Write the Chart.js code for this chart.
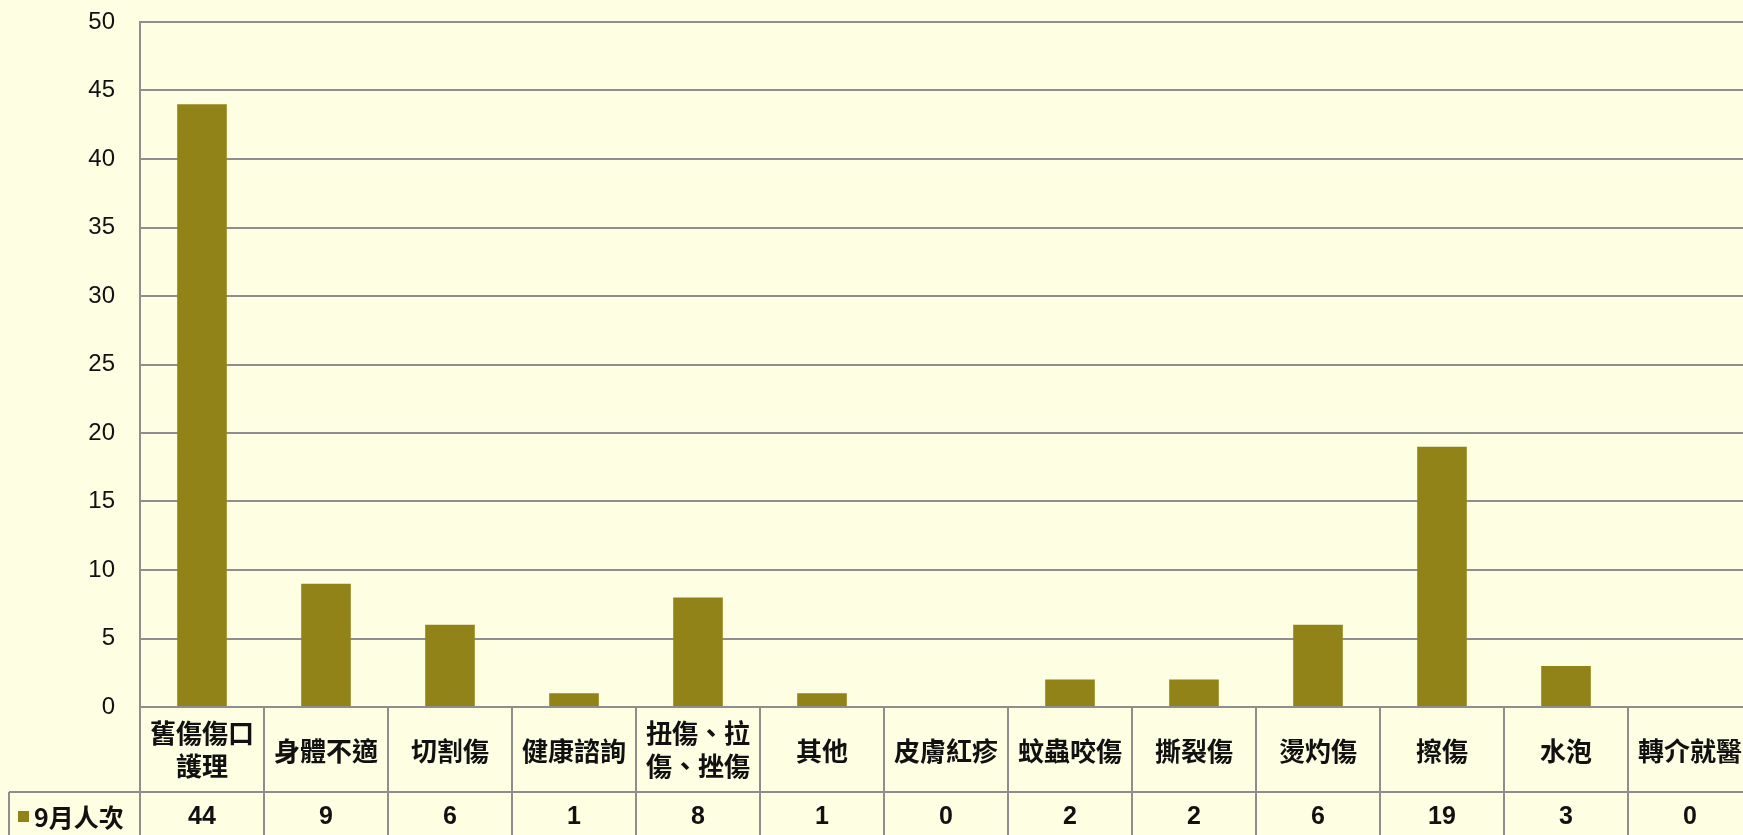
<!DOCTYPE html>
<html>
<head>
<meta charset="utf-8">
<script src="https://cdn.jsdelivr.net/npm/chart.js@4/dist/chart.umd.min.js"></script>
<style>
  html, body { margin: 0; padding: 0; overflow: hidden; background: #fefee3; }
  #wrap { width: 1754px; height: 860px; }
</style>
</head>
<body>
<div id="wrap"><canvas id="chart" width="1754" height="860"></canvas></div>
<script>
// 類別（表格第一列，可換行）
let categories = [
    ["舊傷傷口", "護理"], ["身體不適"], ["切割傷"], ["健康諮詢"], ["扭傷、拉", "傷、挫傷"],
    ["其他"], ["皮膚紅疹"], ["蚊蟲咬傷"], ["撕裂傷"], ["燙灼傷"], ["擦傷"], ["水泡"], ["轉介就醫"]
];
let seriesName = "9月人次";
let septemberCounts = [44, 9, 6, 1, 8, 1, 0, 2, 2, 6, 19, 3, 0];
let yTicks = [0, 5, 10, 15, 20, 25, 30, 35, 40, 45, 50];

let gridColor = "#8e8e8e";
let barColor = "#928318";
let cjkFont = "'Noto Sans CJK TC', 'Noto Sans CJK SC', sans-serif";
let numFont = "'Liberation Sans', Arial, sans-serif";

// 背景
let background = {
    id: "background",
    beforeDraw(chart) {
        let ctx = chart.ctx;
        ctx.save();
        ctx.fillStyle = "#fefee3";
        ctx.fillRect(0, 0, chart.width, chart.height);
        ctx.restore();
    }
};

// 下方資料表
let dataTable = {
    id: "dataTable",
    afterDraw(chart) {
        let ctx = chart.ctx;
        let area = chart.chartArea;
        let x = chart.scales.x;
        let top = area.bottom;
        let rowSplit = top + 85;
        let bottom = chart.height - 2;
        let n = categories.length;
        let half = (x.getPixelForTick(1) - x.getPixelForTick(0)) / 2;

        ctx.save();
        ctx.strokeStyle = gridColor;
        ctx.lineWidth = 2;
        ctx.beginPath();
        // y 軸延伸
        ctx.moveTo(area.left, top);
        ctx.lineTo(area.left, bottom);
        for (let i = 0; i < n; i++) {
            let edge = x.getPixelForTick(i) + half;
            ctx.moveTo(edge, top);
            ctx.lineTo(edge, bottom);
        }
        ctx.moveTo(9, rowSplit);
        ctx.lineTo(area.right, rowSplit);
        ctx.moveTo(9, rowSplit);
        ctx.lineTo(9, bottom);
        ctx.moveTo(9, bottom);
        ctx.lineTo(area.right, bottom);
        ctx.stroke();

        ctx.fillStyle = "#111";
        ctx.textAlign = "center";
        ctx.textBaseline = "middle";
        ctx.font = "bold 26px " + cjkFont;
        categories.forEach((lines, i) => {
            let cx = x.getPixelForTick(i);
            if (lines.length === 1) {
                ctx.fillText(lines[0], cx, top + 44);
            } else {
                ctx.fillText(lines[0], cx, top + 26);
                ctx.fillText(lines[1], cx, top + 59);
            }
        });

        let valueY = rowSplit + 25;
        ctx.font = "bold 25px " + numFont;
        septemberCounts.forEach((v, i) => {
            ctx.fillText(String(v), x.getPixelForTick(i), valueY);
        });

        // 圖例
        ctx.fillStyle = barColor;
        ctx.fillRect(18, valueY - 6, 11, 11);
        ctx.fillStyle = "#111";
        ctx.textAlign = "left";
        ctx.font = "bold 25px " + cjkFont;
        ctx.fillText(seriesName, 34, valueY);
        ctx.restore();
    }
};

let context = document.getElementById("chart").getContext("2d");
let chart = new Chart(context, {
    type: "bar",
    data: {
        labels: categories.map(c => c.join("")),
        datasets: [{
            label: seriesName,
            data: septemberCounts,
            backgroundColor: barColor,
            categoryPercentage: 1,
            barPercentage: 0.4
        }]
    },
    options: {
        responsive: false,
        animation: false,
        devicePixelRatio: 1,
        layout: { padding: { top: 22, right: 2, left: 0, bottom: 0 } },
        plugins: { legend: { display: false }, tooltip: { enabled: false } },
        scales: {
            x: {
                grid: { display: false },
                border: { display: false },
                ticks: { display: false },
                afterFit: s => { s.height = 153; }
            },
            y: {
                min: 0,
                max: 50,
                afterBuildTicks: s => { s.ticks = yTicks.map(v => ({ value: v })); },
                grid: { color: gridColor, lineWidth: 2, drawTicks: false },
                border: { color: gridColor, width: 2 },
                ticks: {
                    padding: 25,
                    color: "#111",
                    font: { family: numFont, size: 24 }
                },
                afterFit: s => {
                    s.width = 140;
                    s.paddingTop = 0;
                    s.paddingBottom = 0;
                }
            }
        }
    },
    plugins: [background, dataTable]
});
</script>
</body>
</html>
